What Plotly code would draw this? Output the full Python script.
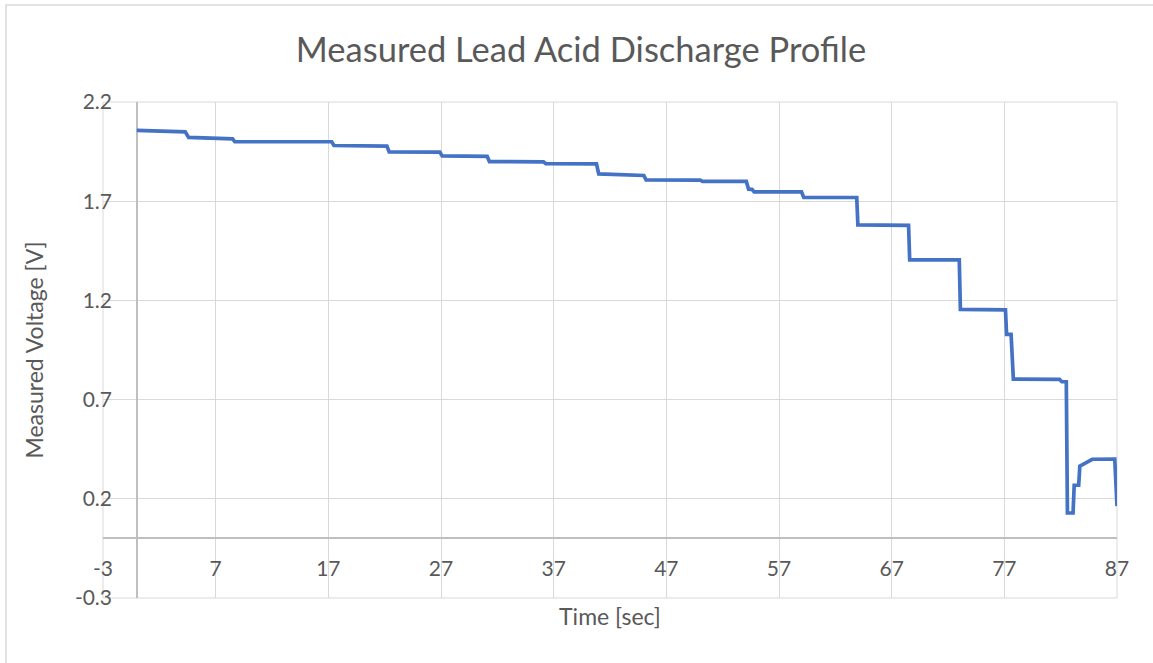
import plotly.graph_objects as go

# Data
time_sec = [0, 4.3, 4.6, 8.5, 8.7, 17.3, 17.5, 22.2, 22.4, 26.9, 27.1, 31.1, 31.3,
            36.1, 36.3, 40.8, 41.0, 45.0, 45.2, 50.0, 50.2, 54.1, 54.3, 54.6, 54.8,
            59.0, 59.2, 63.9, 64.0, 68.5, 68.6, 73.0, 73.1, 77.1, 77.2, 77.6, 77.8,
            81.9, 82.1, 82.5, 82.6, 83.1, 83.2, 83.6, 83.7, 84.2, 84.6, 84.8, 86.8, 87.0]
voltage_v = [2.057, 2.050, 2.022, 2.015, 2.000, 2.000, 1.981, 1.978, 1.949, 1.948, 1.929, 1.926, 1.900,
             1.899, 1.890, 1.889, 1.838, 1.830, 1.808, 1.807, 1.800, 1.800, 1.761, 1.760, 1.747,
             1.747, 1.719, 1.719, 1.581, 1.578, 1.404, 1.404, 1.155, 1.152, 1.029, 1.029, 0.803,
             0.802, 0.790, 0.790, 0.128, 0.128, 0.268, 0.268, 0.364, 0.379, 0.394, 0.399, 0.400, 0.163]

x_ticks = [-3, 7, 17, 27, 37, 47, 57, 67, 77, 87]
y_ticks = [-0.3, 0.2, 0.7, 1.2, 1.7, 2.2]

FONT = "Lato"
TXT = "#595959"
GRID = "#D9D9D9"
AXIS = "#BFBFBF"

W, H = 1153, 663
L, R, T, B = 103, 36, 102, 65
pw, ph = W - L - R, H - T - B

fig = go.Figure()
fig.add_trace(go.Scatter(x=time_sec, y=voltage_v, mode="lines",
                         line=dict(color="#4472C4", width=3.7), showlegend=False))

ymin, ymax = -0.3, 2.2
zero_frac = (0 - ymin) / (ymax - ymin)

fig.update_layout(
    width=W, height=H,
    margin=dict(l=L, r=R, t=T, b=B, autoexpand=False),
    paper_bgcolor="white", plot_bgcolor="white",
    font=dict(family=FONT, color=TXT, size=21),
    title=dict(text="Measured Lead Acid Discharge Profile", x=(581 - L) / pw, xref="paper",
               y=1 - 50 / H, yanchor="middle", xanchor="center",
               font=dict(size=34.5, color=TXT, family=FONT)),
    xaxis=dict(range=[-3, 87], tickvals=x_ticks, ticktext=[str(v) for v in x_ticks],
               showgrid=True, gridcolor=GRID, gridwidth=1,
               zeroline=True, zerolinecolor=AXIS, zerolinewidth=1.5,
               showline=False, anchor="free", position=zero_frac,
               ticks="", ticklabelstandoff=16, automargin=False,
               tickfont=dict(size=21, color=TXT),
               title=dict(text="Time [sec]", standoff=29, font=dict(size=23, color=TXT))),
    yaxis=dict(range=[ymin - 0.0005, ymax + 0.0005], tickvals=y_ticks,
               ticktext=[f"{v:.1f}" for v in y_ticks],
               showgrid=True, gridcolor=GRID, gridwidth=1,
               zeroline=True, zerolinecolor=AXIS, zerolinewidth=1.5,
               showline=False, ticks="", ticklabelstandoff=-10, automargin=False,
               tickfont=dict(size=21, color=TXT),
               title=dict(text="Measured Voltage [V]", standoff=24, font=dict(size=23, color=TXT))),
)

# plot-area frame (gridline coloured)
fig.add_shape(type="rect", xref="x domain", yref="y domain", x0=0, x1=1, y0=0, y1=1,
              line=dict(color=GRID, width=1), fillcolor="rgba(0,0,0,0)", layer="below")

# outer chart border
fig.add_shape(type="rect", xref="paper", yref="paper",
              x0=(6 - L) / pw, x1=(1165 - L) / pw,
              y0=(H - B - 675) / ph, y1=(H - B - 5) / ph,
              line=dict(color=GRID, width=1.5), fillcolor="rgba(0,0,0,0)", layer="below")

fig.write_html("out.html", config={"displayModeBar": False},
               post_script="document.body.style.margin='0';")
